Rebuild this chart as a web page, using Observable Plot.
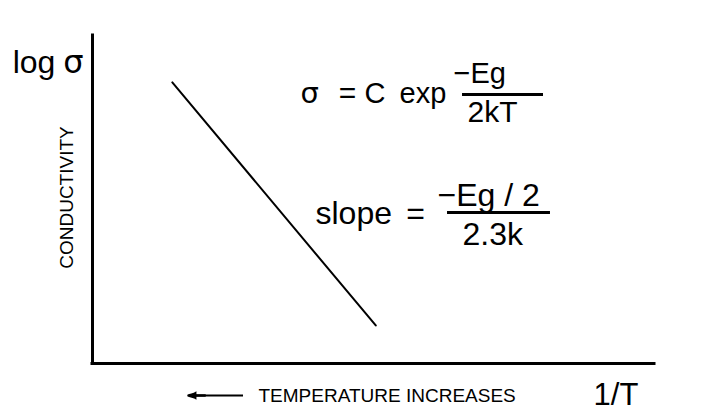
<!DOCTYPE html>
<html>
<head>
<meta charset="utf-8">
<script src="https://cdn.jsdelivr.net/npm/d3@7"></script>
<script src="https://cdn.jsdelivr.net/npm/@observablehq/plot@0.6"></script>
<style>
  html, body { margin: 0; padding: 0; background: #fff; }
  #chart svg { display: block; }
</style>
</head>
<body>
<div id="chart"></div>
<script>
// Data: schematic Arrhenius plot, log σ versus 1/T (arbitrary units)
const invT = [0.142, 0.504];
const logSigma = [0.857, 0.116];

// Labels
const yLabelLog = "log";
const yLabelSigma = "σ";
const yNote = "CONDUCTIVITY";
const xLabel = "1/T";
const xNote = "TEMPERATURE INCREASES";
const eq1Lhs = "σ";
const eq1Eq = "=";
const eq1C = "C";
const eq1Exp = "exp";
const eq1Num = "−Eg";
const eq1Den = "2kT";
const eq2Lhs = "slope";
const eq2Eq = "=";
const eq2Num = "−Eg / 2";
const eq2Den = "2.3k";

const lineData = invT.map((x, i) => ({x, y: logSigma[i]}));
const font = "Liberation Sans, Arial, Helvetica, sans-serif";
const greek = "DejaVu Sans, sans-serif";
const T = (label, opts) => Plot.text([label], {text: d => d, fill: "black", fontFamily: font, lineAnchor: "bottom", textAnchor: "start", ...opts});

const chart = Plot.plot({
  width: 713,
  height: 410,
  marginLeft: 92,
  marginRight: 59,
  marginTop: 35,
  marginBottom: 47,
  x: {domain: [0, 1], axis: null},
  y: {domain: [0, 1], axis: null},
  style: {background: "white"},
  marks: [
    Plot.ruleX([0], {y1: 0, y2: 1, stroke: "black", strokeWidth: 3, strokeLinecap: "square"}),
    Plot.ruleY([0], {x1: 0, x2: 1, stroke: "black", strokeWidth: 3, strokeLinecap: "square"}),
    Plot.line(lineData, {x: "x", y: "y", stroke: "black", strokeWidth: 2}),
    T(yLabelLog, {x: -0.142, y: 0.887, fontSize: 32}),
    T(yLabelSigma, {x: -0.052, y: 0.887, fontSize: 32, fontFamily: greek}),
    T(yNote, {x: -0.034, y: 0.506, fontSize: 19, rotate: -90, textAnchor: "middle"}),
    Plot.ruleY([-0.0976], {x1: 0.1808, x2: 0.2687, stroke: "black", strokeWidth: 2}),
    Plot.arrow([0], {x1: 0.20, x2: 0.1708, y1: -0.0976, y2: -0.0976, stroke: "black", strokeWidth: 2.5, headLength: 12, headAngle: 30}),
    Plot.dot([0], {x: 0.1805, y: -0.0976, symbol: "triangle", r: 3.2, fill: "black", rotate: -90}),
    T(xNote, {x: 0.2954, y: -0.1159, fontSize: 19}),
    T(xLabel, {x: 0.8915, y: -0.125, fontSize: 31}),
    // equation 1
    T(eq1Lhs, {x: 0.3701, y: 0.7957, fontSize: 29, fontFamily: greek}),
    T(eq1Eq, {x: 0.4537, y: 0.7957, fontSize: 30, textAnchor: "middle"}),
    T(eq1C, {x: 0.484, y: 0.7957, fontSize: 29}),
    T(eq1Exp, {x: 0.5463, y: 0.7957, fontSize: 29}),
    Plot.ruleY([0.8201], {x1: 0.6584, x2: 0.8025, stroke: "black", strokeWidth: 3}),
    T(eq1Num, {x: 0.6423, y: 0.8537, fontSize: 29}),
    T(eq1Den, {x: 0.6673, y: 0.7348, fontSize: 30}),
    // equation 2
    T(eq2Lhs, {x: 0.3968, y: 0.4268, fontSize: 32}),
    T(eq2Eq, {x: 0.5747, y: 0.4268, fontSize: 32, textAnchor: "middle"}),
    Plot.ruleY([0.4604], {x1: 0.6317, x2: 0.8149, stroke: "black", strokeWidth: 3}),
    T(eq2Num, {x: 0.6139, y: 0.4817, fontSize: 32}),
    T(eq2Den, {x: 0.6584, y: 0.3628, fontSize: 32})
  ]
});
document.getElementById("chart").appendChild(chart);
</script>
</body>
</html>
